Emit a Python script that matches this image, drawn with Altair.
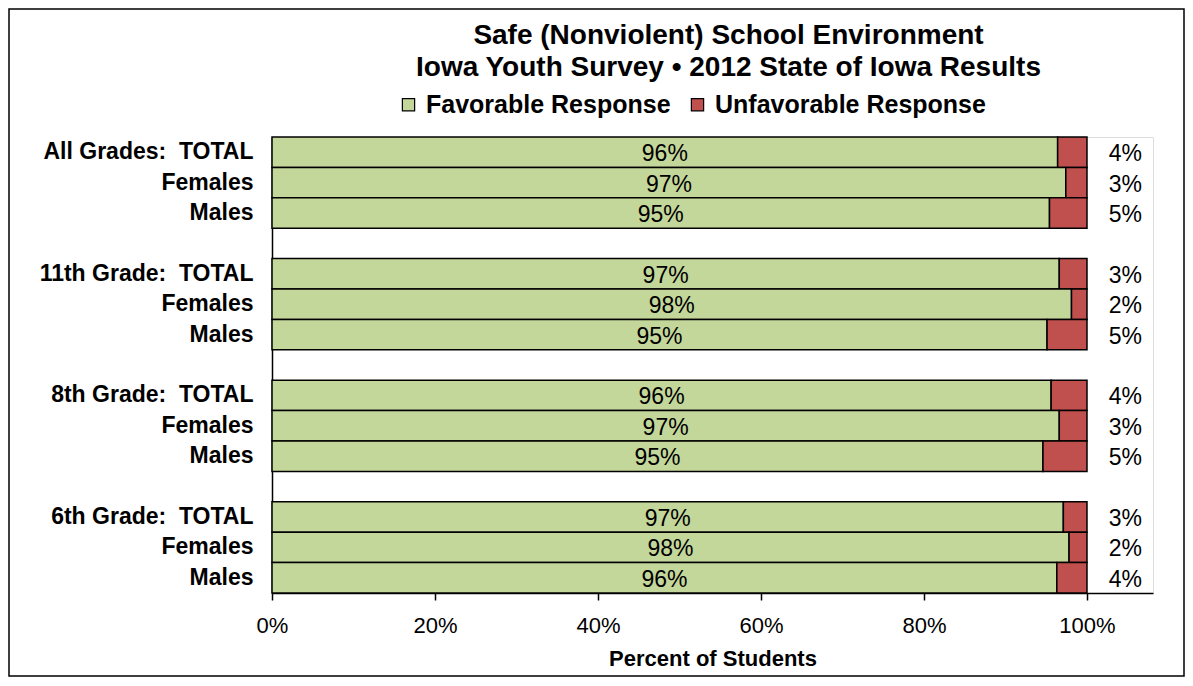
import json
import altair as alt
import pandas as pd

# ---- data ----
groups = ["All Grades", "11th Grade", "8th Grade", "6th Grade"]
subgroups = ["TOTAL", "Females", "Males"]
favorable = [96.4, 97.4, 95.4, 96.6, 98.1, 95.1, 95.6, 96.6, 94.6, 97.1, 97.8, 96.3]
unfavorable = [3.6, 2.6, 4.6, 3.4, 1.9, 4.9, 4.4, 3.4, 5.4, 2.9, 2.2, 3.7]
series = ["Favorable Response", "Unfavorable Response"]
colors = ["#C4D79B", "#C0504D"]
x_ticks = [0, 20, 40, 60, 80, 100]

# ---- build row ids (with blank spacer rows between groups) ----
row_ids = []
row_labels = []
bar_rows = []
k = 0
idx = 0
for gi, g in enumerate(groups):
    for s in subgroups:
        rid = f"{idx:02d}"
        row_ids.append(rid)
        row_labels.append(f"{g}:\u00a0 {s}" if s == "TOTAL" else s)
        bar_rows.append((rid, favorable[k], unfavorable[k]))
        k += 1
        idx += 1
    if gi < len(groups) - 1:
        rid = f"{idx:02d}"
        row_ids.append(rid)
        row_labels.append("")
        idx += 1

seg_records = []
lab_records = []
for rid, f, u in bar_rows:
    seg_records.append({"id": rid, "seg": series[0], "start": 0, "end": f})
    seg_records.append({"id": rid, "seg": series[1], "start": f, "end": f + u})
    lab_records.append({"id": rid, "fav": f, "unf": u,
                        "fav_lab": f"{round(f)}%", "unf_lab": f"{round(u)}%"})
seg_df = pd.DataFrame(seg_records)
lab_df = pd.DataFrame(lab_records)

FONT = "Liberation Sans"
W, H = 881, 456
XMAX = 108.1

label_expr = json.dumps(row_labels) + "[toNumber(datum.value)]"

y_enc = alt.Y("id:N", scale=alt.Scale(domain=row_ids, paddingInner=0, paddingOuter=0),
              axis=alt.Axis(title=None, labelExpr=label_expr, ticks=False,
                            labelFont=FONT, labelFontSize=23, labelFontWeight="bold",
                            labelColor="black", labelPadding=19, domainColor="black",
                            domainWidth=1.5, labelLimit=400))

x_scale = alt.Scale(domain=[0, XMAX], nice=False, zero=True)

bars = alt.Chart(seg_df).mark_bar(stroke="black", strokeWidth=1.5).encode(
    x=alt.X("start:Q", scale=x_scale,
            axis=alt.Axis(values=x_ticks, labelExpr="datum.value + '%'",
                          title="Percent of Students", titleFont=FONT, titleFontSize=22,
                          titleFontWeight="bold", titleColor="black", titlePadding=12,
                          labelFont=FONT, labelFontSize=22, labelColor="black",
                          labelPadding=15, labelFlush=False, tickColor="black",
                          tickSize=7, tickWidth=1.5,
                          domainColor="black", domainWidth=1.5, grid=False)),
    x2="end:Q",
    y=y_enc,
    color=alt.Color("seg:N", scale=alt.Scale(domain=series, range=colors),
                    legend=alt.Legend(title=None, orient="none", direction="horizontal",
                                      legendX=124, legendY=-45, symbolType="square",
                                      symbolSize=150, symbolStrokeColor="black",
                                      symbolStrokeWidth=1.2, symbolOpacity=1,
                                      labelFont=FONT, labelFontSize=25,
                                      labelFontWeight="bold", labelColor="black",
                                      labelLimit=500,
                                      labelOffset=5, columnPadding=14, padding=0)),
)

text_in = alt.Chart(lab_df).transform_calculate(mid="datum.fav / 2").mark_text(
    font=FONT, fontSize=23, color="black", baseline="middle", dy=2
).encode(x=alt.X("mid:Q", scale=x_scale), y=alt.Y("id:N", scale=alt.Scale(domain=row_ids)),
         text="fav_lab:N")

text_right = alt.Chart(lab_df).mark_text(
    font=FONT, fontSize=23, color="black", baseline="middle", dy=2
).encode(x=alt.datum(104.7, scale=x_scale), y=alt.Y("id:N", scale=alt.Scale(domain=row_ids)),
         text="unf_lab:N")

border = alt.Chart(pd.DataFrame({"b": [0]})).mark_rect(
    filled=False, stroke="black", strokeWidth=1.5
).encode(x=alt.value(-263), x2=alt.value(W + 31), y=alt.value(-128), y2=alt.value(H + 83))

chart = alt.layer(border, bars, text_in, text_right).properties(
    width=W, height=H,
    padding={"left": 264, "top": 129, "right": 32, "bottom": 84},
    autosize=alt.AutoSizeParams(type="none"),
    title=alt.TitleParams(
        text=["Safe (Nonviolent) School Environment",
              "Iowa Youth Survey \u2022 2012 State of Iowa Results"],
        font=FONT, fontSize=28, fontWeight="bold", color="black",
        anchor="middle", frame="group", dx=16, offset=0, dy=74, lineHeight=32),
).configure_view(stroke="black", strokeWidth=1.5).configure(background="white")

chart.save("out.html", embed_options={"renderer": "svg", "actions": False})
